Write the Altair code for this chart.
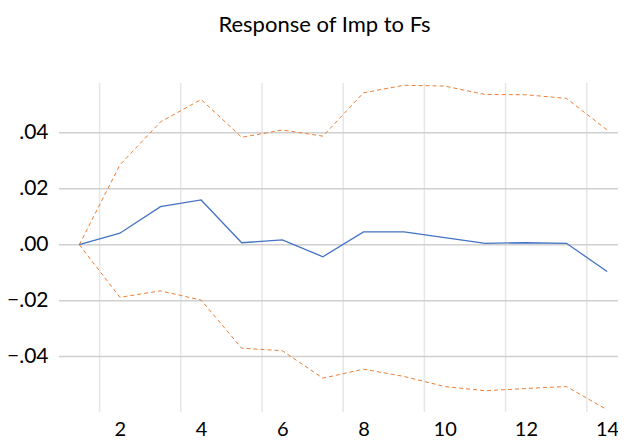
import altair as alt
import pandas as pd

periods = list(range(1, 15))
response = [0.0, 0.0041, 0.0136, 0.0160, 0.0007, 0.0017, -0.0043, 0.0046, 0.0046, 0.0025, 0.0005, 0.0007, 0.0005, -0.0096]
upper = [0.0, 0.0285, 0.0439, 0.0519, 0.0384, 0.0410, 0.0388, 0.0543, 0.0570, 0.0567, 0.0537, 0.0536, 0.0523, 0.0410]
lower = [0.0, -0.0188, -0.0165, -0.0198, -0.0370, -0.0379, -0.0477, -0.0445, -0.0471, -0.0507, -0.0522, -0.0514, -0.0507, -0.0590]
x_ticks = [2, 4, 6, 8, 10, 12, 14]
y_ticks = [-0.04, -0.02, 0.0, 0.02, 0.04]
vgrid = [1.5, 3.5, 5.5, 7.5, 9.5, 11.5, 13.5]

W, H = 555, 329
FONT = "Lato"

df = pd.DataFrame({"period": periods, "response": response, "upper": upper, "lower": lower})
long = df.melt("period", value_vars=["upper", "lower"], var_name="band", value_name="value")

xs = alt.Scale(domain=[0.5, 14.17], nice=False, zero=False)
ys = alt.Scale(domain=[-0.0598, 0.0578], nice=False, zero=False)

xaxis = alt.Axis(values=x_ticks, grid=False, ticks=False, domain=False, labelFontSize=20,
                 labelFont=FONT, labelColor="#000000", labelPadding=7, title=None, labelFlush=False)
yaxis = alt.Axis(values=y_ticks, grid=False, ticks=False,
                 domain=False, labelFontSize=21, labelFont=FONT, labelColor="#000000",
                 labelPadding=11, title=None,
                 labelExpr="replace(format(datum.value, '.2f'), '0.', '.')")

vg = alt.Chart(pd.DataFrame({"g": vgrid})).mark_rule(color="#e6e6e6", strokeWidth=1.5).encode(
    x=alt.X("g:Q", scale=xs, axis=xaxis),
    y=alt.value(0), y2=alt.value(H),
)

hg = alt.Chart(pd.DataFrame({"t": y_ticks})).mark_rule(color="#d0d0d0", strokeWidth=1.5).encode(
    y=alt.Y("t:Q", scale=ys, axis=yaxis),
    x=alt.value(0), x2=alt.value(W + 4),
)

bands = alt.Chart(long).mark_line(color="#ED7D31", strokeWidth=1, strokeDash=[4, 3]).encode(
    x=alt.X("period:Q", scale=xs, axis=xaxis),
    y=alt.Y("value:Q", scale=ys, axis=yaxis),
    detail="band:N",
)

resp = alt.Chart(df).mark_line(color="#4472C4", strokeWidth=1.3).encode(
    x=alt.X("period:Q", scale=xs, axis=xaxis),
    y=alt.Y("response:Q", scale=ys, axis=yaxis),
)

chart = alt.layer(vg, hg, bands, resp).properties(
    width=W, height=H,
    title=alt.TitleParams("Response of Imp to Fs", font=FONT, fontSize=22, fontWeight="normal",
                          color="#000000", anchor="middle", offset=45, dx=-12),
    autosize=alt.AutoSizeParams(type="none"),
    padding={"left": 51, "top": 75, "right": 4, "bottom": 30},
).configure_view(stroke=None)

chart.save("out.html", embed_options={"renderer": "svg", "actions": False})
